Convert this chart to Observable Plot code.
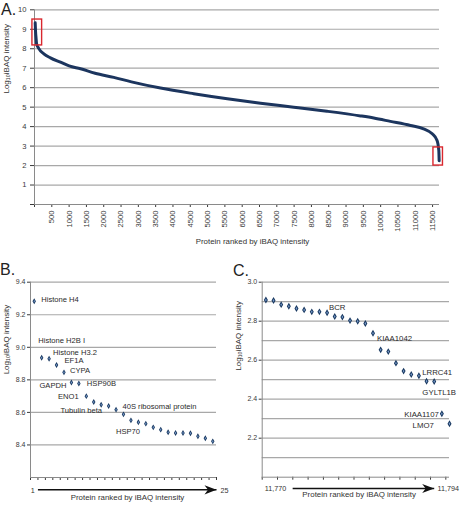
<!DOCTYPE html>
<html><head><meta charset="utf-8">
<script src="https://cdn.jsdelivr.net/npm/d3@7"></script>
<script src="https://cdn.jsdelivr.net/npm/@observablehq/plot@0.6"></script>
<style>
html,body{margin:0;padding:0;background:#fff;}
#root{position:relative;width:460px;height:505px;overflow:hidden;font-family:"Liberation Sans",Arial,sans-serif;}
.panel{position:absolute;}
.letter{position:absolute;font-size:16px;line-height:16px;color:#222;}
</style></head><body><div id="root"></div>
<script>
// ---------- Panel A: whole proteome ----------
const rankA = [20, 30, 45, 60, 120, 270, 460, 750, 1000, 1330, 1750, 2290, 2800, 3640, 4600, 5570, 6530, 7490, 8450, 9420, 9800, 10280, 10860, 11240, 11490, 11630, 11680, 11690];
const log10A = [9.33, 8.9, 8.55, 8.25, 8.02, 7.74, 7.53, 7.31, 7.12, 6.97, 6.74, 6.53, 6.30, 5.98, 5.69, 5.43, 5.20, 5.00, 4.79, 4.55, 4.44, 4.27, 4.06, 3.89, 3.63, 3.29, 2.78, 2.25];
const xTicksA = [0, 500, 1000, 1500, 2000, 2500, 3000, 3500, 4000, 4500, 5000, 5500, 6000, 6500, 7000, 7500, 8000, 8500, 9000, 9500, 10000, 10500, 11000, 11500];
const yTicksA = [0, 1, 2, 3, 4, 5, 6, 7, 8, 9, 10];
// highlighted regions (top 25 / bottom 25 proteins)
const boxRankFrom = [-60, 11525];
const boxRankTo = [220, 11800];
const boxLow = [8.17, 2.0];
const boxHigh = [9.5, 2.93];

// ---------- Panel B: top 25 ----------
const rankB = [1,2,3,4,5,6,7,8,9,10,11,12,13,14,15,16,17,18,19,20,21,22,23,24,25];
const log10B = [9.283, 8.936, 8.930, 8.891, 8.846, 8.784, 8.778, 8.700, 8.664, 8.647, 8.639, 8.617, 8.588, 8.551, 8.539, 8.531, 8.508, 8.494, 8.478, 8.474, 8.474, 8.472, 8.453, 8.441, 8.422];
const yTicksB = [8.4, 8.6, 8.8, 9.0, 9.2, 9.4];
const labelB = ["Histone H4","Histone H2B I","Histone H3.2","EF1A","CYPA","GAPDH","HSP90B","ENO1","Tubulin beta","40S ribosomal protein","HSP70"];
const labelRankB = [1,2,3,4,5,6,7,8,11,13,14];
const endLabelsB = ["1", "25"];

// ---------- Panel C: bottom 25 ----------
const rankC = [11770,11771,11772,11773,11774,11775,11776,11777,11778,11779,11780,11781,11782,11783,11784,11785,11786,11787,11788,11789,11790,11791,11792,11793,11794];
const log10C = [2.909, 2.906, 2.885, 2.877, 2.865, 2.858, 2.848, 2.848, 2.843, 2.824, 2.821, 2.803, 2.800, 2.788, 2.738, 2.653, 2.644, 2.585, 2.544, 2.527, 2.520, 2.492, 2.491, 2.325, 2.274];
const yTicksC = [2.2, 2.4, 2.6, 2.8, 3.0];
const yGridC = [2.1, 2.2, 2.3, 2.4, 2.5, 2.6, 2.7, 2.8, 2.9, 3.0];
const labelC = ["BCR","KIAA1042","LRRC41","GYLTL1B","KIAA1107","LMO7"];
const labelRankC = [11779, 11784, 11790, 11792, 11793, 11794];
const endLabelsC = ["11,770", "11,794"];

const xLabel = "Protein ranked by iBAQ intensity";
const yLabel = "Log\u2081\u2080iBAQ intensity";

// ---------- styling ----------
const FONT = "Liberation Sans, Arial, Helvetica, sans-serif";
const GRID = "#a8a8a8", AXIS = "#8a8a8a", LINE = "#1c355e", DARK = "#17375f", LIGHT = "#7b9ccb";
const baseStyle = (fs) => ({fontFamily: FONT, fontSize: fs, color: "#3a3a3a", background: "transparent", overflow: "visible"});
const fmt1 = d3.format(".1f");

// arrowhead pointing right, tip at origin
const arrowHead = {draw(ctx) { ctx.moveTo(0,0); ctx.lineTo(-12,-4.6); ctx.lineTo(-8.5,0); ctx.lineTo(-12,4.6); ctx.closePath(); }};

const root = document.getElementById("root");
function place(el, left, top) { el.classList.add("panel"); el.style.left = left + "px"; el.style.top = top + "px"; root.appendChild(el); }
function letter(t, left, top) { const d = document.createElement("div"); d.className = "letter"; d.textContent = t; d.style.left = left + "px"; d.style.top = top + "px"; root.appendChild(d); }

// ---------- A ----------
const dataA = rankA.map((r, i) => ({rank: r, v: log10A[i]}));
const boxes = boxRankFrom.map((r, i) => ({x1: r, x2: boxRankTo[i], y1: boxLow[i], y2: boxHigh[i]}));
const plotA = Plot.plot({
  width: 460, height: 250,
  marginLeft: 34, marginRight: 21, marginTop: 9.3, marginBottom: 46,
  style: baseStyle("7.6px"),
  x: {domain: [0, 11700], ticks: xTicksA, tickFormat: d => d === 0 ? "" : String(d), tickRotate: -90, tickSize: 3, tickPadding: 3, label: null},
  y: {domain: [0, 10], ticks: yTicksA, tickFormat: d => d === 0 ? "" : String(d), tickSize: 4, tickPadding: 4, label: null},
  marks: [
    Plot.ruleY(yTicksA.filter(d => d > 0), {stroke: GRID, strokeWidth: 1.2}),
    Plot.ruleX([0], {stroke: AXIS}),
    Plot.ruleY([0], {stroke: AXIS}),
    Plot.line(dataA, {x: "rank", y: "v", stroke: LINE, strokeWidth: 3, curve: "monotone-x"}),
    Plot.rect(boxes, {x1: "x1", x2: "x2", y1: "y1", y2: "y2", fill: "none", stroke: "#d9272e", strokeWidth: 1.4}),
    Plot.text([xLabel], {frameAnchor: "bottom", dx: 15.5, dy: 39, fontSize: 7.9, fill: "#333"}),
    Plot.text([yLabel], {frameAnchor: "left", rotate: -90, dx: -28, dy: -13.6, fontSize: 8, fill: "#333"})
  ]
});
place(plotA, 0, 0);

// ---------- B ----------
const dataB = rankB.map((r, i) => ({rank: r, v: log10B[i]}));
const placeB = [[7,-2,"start"],[-3.4,-17,"start"],[4,-6.2,"start"],[8,-4.2,"start"],[6,-2,"start"],[-5,3,"end"],[8,0.5,"start"],[-7.6,0,"end"],[-6.6,4.5,"end"],[-1,-8,"start"],[-3,11,"middle"]];
const xTickB = rankB.map(r => r - 0.5).concat([rankB[rankB.length - 1] + 0.5]);
const yMinB = 8.2;
const plotB = Plot.plot({
  width: 230, height: 250,
  marginLeft: 30, marginRight: 14, marginTop: 26.7, marginBottom: 28,
  style: baseStyle("7px"),
  x: {domain: [0.5, 25.5], ticks: xTickB, tickFormat: () => "", tickSize: 3, label: null},
  y: {domain: [yMinB, 9.4], ticks: yTicksB, tickFormat: fmt1, tickSize: 3, tickPadding: 2, label: null},
  marks: [
    Plot.ruleY(yTicksB, {stroke: GRID, strokeWidth: 1.2}),
    Plot.ruleX([0.5], {stroke: AXIS}),
    Plot.ruleY([yMinB], {stroke: AXIS}),
    Plot.dot(dataB, {x: "rank", y: "v", symbol: "diamond", r: 1.8, fill: DARK, stroke: "none"}),
    Plot.dot(dataB, {x: "rank", y: "v", symbol: "diamond", r: 0.8, fill: LIGHT, stroke: "none"}),
    ...labelB.map((name, i) => Plot.text([{rank: labelRankB[i], v: log10B[labelRankB[i] - 1], name}], {x: "rank", y: "v", text: "name", dx: placeB[i][0], dy: placeB[i][1], textAnchor: placeB[i][2], fontSize: 7.6, fill: "#2a2a2a"})),
    Plot.link([{a: 1.5, b: 25.5}], {x1: "a", x2: "b", y1: () => yMinB, y2: () => yMinB, dy: 12.3, stroke: "#111", strokeWidth: 1.4}),
    Plot.dot([{a: 25.5}], {x: "a", y: () => yMinB, dy: 12.3, symbol: arrowHead, r: 4, fill: "#111", stroke: "none"}),
    Plot.text([{r: rankB[0], t: endLabelsB[0]}], {x: "r", y: () => yMinB, text: "t", dx: -1.4, dy: 12.8, fontSize: 7.2, fill: "#333"}),
    Plot.text([{r: 25.5, t: endLabelsB[1]}], {x: "r", y: () => yMinB, text: "t", dx: 4, dy: 12.8, textAnchor: "start", fontSize: 7.2, fill: "#333"}),
    Plot.text([xLabel], {frameAnchor: "bottom", dx: 4, dy: 22.3, fontSize: 7.9, fill: "#333"}),
    Plot.text([yLabel], {frameAnchor: "left", rotate: -90, dx: -24, dy: -5.5, fontSize: 8, fill: "#333"})
  ]
});
place(plotB, 0, 255);

// ---------- C ----------
const dataC = rankC.map((r, i) => ({rank: r, v: log10C[i]}));
const placeC = [[2.5,-9,"middle"],[4,5.5,"start"],[3.3,-3.3,"start"],[5,11.5,"middle"],[-3,1,"end"],[-15.7,1.6,"end"]];
const x0C = rankC[0] - 0.48;
const xTickC = rankC.filter((r, i) => i % 2 === 0).map(r => r - 0.48);
const yMinC = 2.0;
const plotC = Plot.plot({
  width: 230, height: 250,
  marginLeft: 31.7, marginRight: 11, marginTop: 26.7, marginBottom: 28.3,
  style: baseStyle("7px"),
  x: {domain: [x0C, rankC[rankC.length - 1]], ticks: xTickC, tickFormat: () => "", tickSize: 3, label: null},
  y: {domain: [yMinC, 3.0], ticks: yTicksC, tickFormat: fmt1, tickSize: 3, tickPadding: 2, label: null},
  marks: [
    Plot.ruleY(yGridC, {stroke: GRID, strokeWidth: 1.2}),
    Plot.ruleX([x0C], {stroke: AXIS}),
    Plot.ruleY([yMinC], {stroke: AXIS}),
    Plot.dot(dataC, {x: "rank", y: "v", symbol: "diamond", r: 2.1, fill: DARK, stroke: "none"}),
    Plot.dot(dataC, {x: "rank", y: "v", symbol: "diamond", r: 0.9, fill: LIGHT, stroke: "none"}),
    ...labelC.map((name, i) => Plot.text([{rank: labelRankC[i], v: log10C[rankC.indexOf(labelRankC[i])], name}], {x: "rank", y: "v", text: "name", dx: placeC[i][0], dy: placeC[i][1], textAnchor: placeC[i][2], fontSize: 7.8, fill: "#2a2a2a"})),
    Plot.link([{a: 11773.5, b: 11792}], {x1: "a", x2: "b", y1: () => yMinC, y2: () => yMinC, dy: 11.3, stroke: "#111", strokeWidth: 1.4}),
    Plot.dot([{a: 11792}], {x: "a", y: () => yMinC, dy: 11.3, symbol: arrowHead, r: 4, fill: "#111", stroke: "none"}),
    Plot.text([{r: rankC[0], t: endLabelsC[0]}], {x: "r", y: () => yMinC, text: "t", dx: 9.6, dy: 11.3, fontSize: 7.2, fill: "#333"}),
    Plot.text([{r: rankC[rankC.length - 1], t: endLabelsC[1]}], {x: "r", y: () => yMinC, text: "t", dx: -12, dy: 11.3, textAnchor: "start", fontSize: 7.2, fill: "#333"}),
    Plot.text([xLabel], {frameAnchor: "bottom", dx: 3.3, dy: 20, fontSize: 7.9, fill: "#333"}),
    Plot.text([yLabel], {frameAnchor: "left", rotate: -90, dx: -24.2, dy: -9, fontSize: 8, fill: "#333"})
  ]
});
place(plotC, 230, 255);

letter("A.", 1, 1.5);
letter("B.", 0, 261.5);
letter("C.", 233, 262.5);
</script>
</body></html>
